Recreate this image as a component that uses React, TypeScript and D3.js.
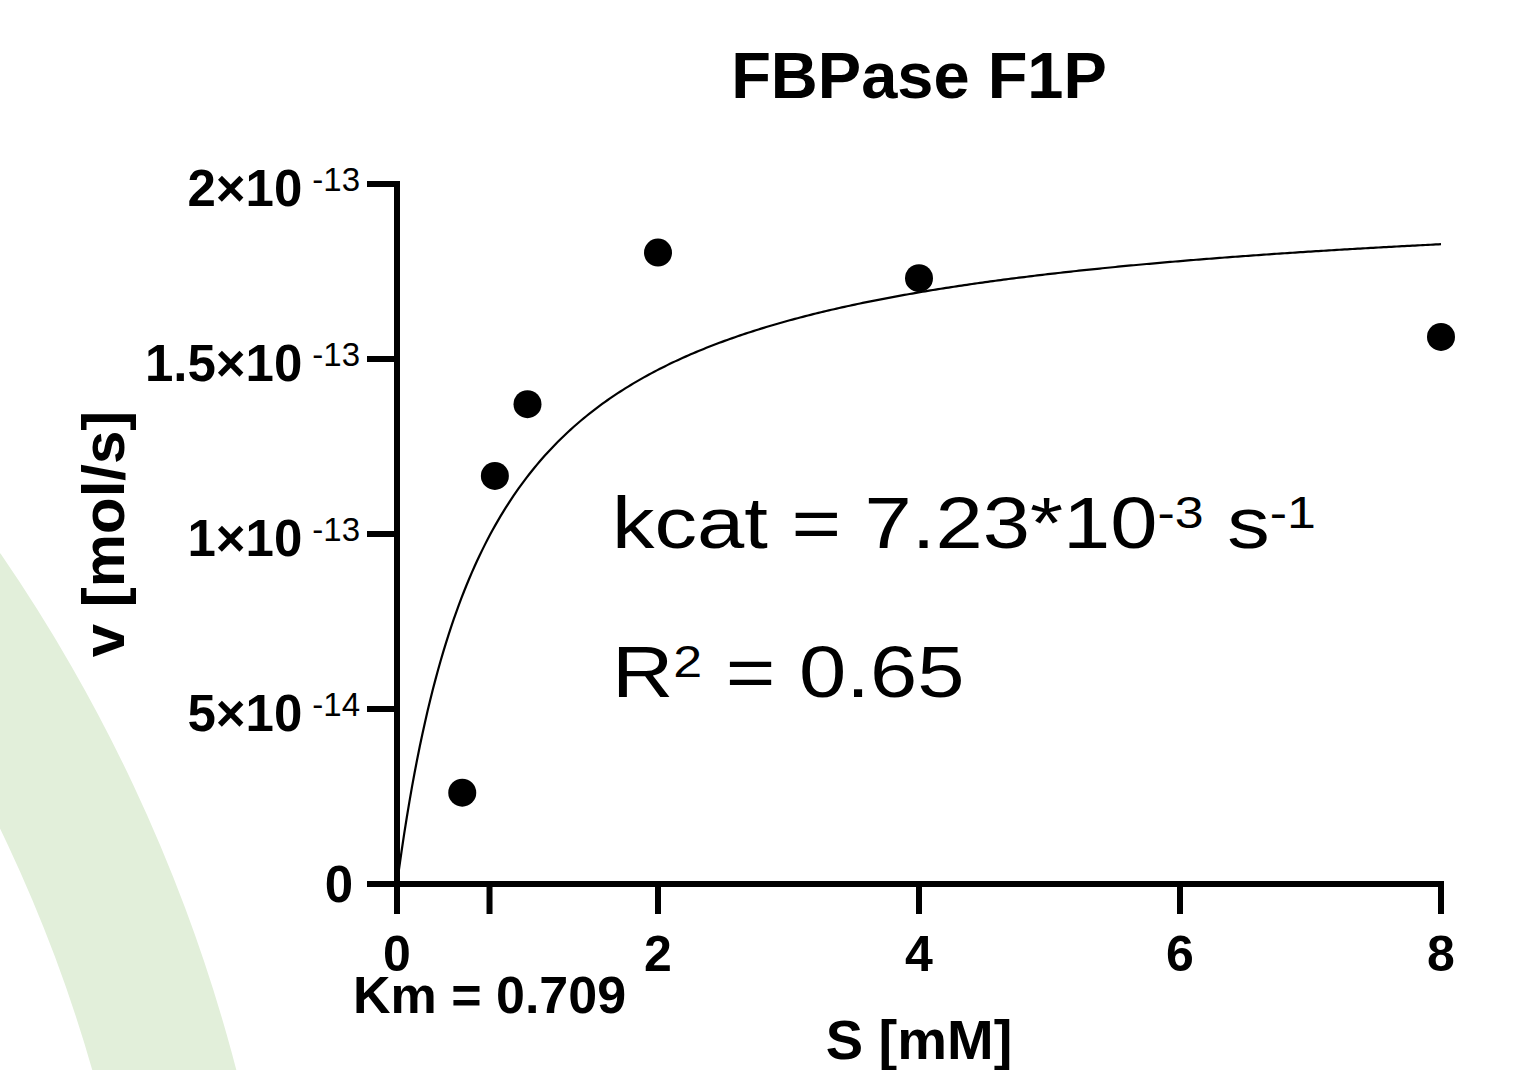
import React from "react";
import * as d3 from "d3";

const W = 1533;
const H = 1070;

// ---- data ----
const substrate = [0.5, 0.75, 1, 2, 4, 8];
const velocity = [2.61e-14, 1.166e-13, 1.371e-13, 1.804e-13, 1.731e-13, 1.563e-13];
const Km = 0.709;
const Vmax = 1.99e-13;
const xTicks = [0, 0.709, 2, 4, 6, 8];
const xTickLabels = ["0", "", "2", "4", "6", "8"];
const yTicks = [0, 5e-14, 1e-13, 1.5e-13, 2e-13];
const yTickMantissa = ["0", "5×10", "1×10", "1.5×10", "2×10"];
const yTickExponent = ["", "-14", "-13", "-13", "-13"];
const titleText = "FBPase F1P";
const xTitle = "S [mM]";
const yTitle = "v [mol/s]";
const kmLabel = "Km = 0.709";

const FONT = "'Liberation Sans', Arial, Helvetica, sans-serif";

export default function App() {
  const x = d3.scaleLinear().domain([0, 8]).range([397, 1441]);
  const y = d3.scaleLinear().domain([0, 2e-13]).range([884, 184]);

  // fitted Michaelis-Menten curve from Km / Vmax
  const sx = d3.range(0, 401).map((i) => 0.015 + (i / 400) * (8 - 0.015));
  const fit = sx.map((s) => [s, (Vmax * s) / (Km + s)] as [number, number]);
  const line = d3
    .line<[number, number]>()
    .x((d) => x(d[0]))
    .y((d) => y(d[1]));

  const ring = d3
    .arc()
    .innerRadius(1499)
    .outerRadius(1638)
    .startAngle(0.4)
    .endAngle(1.7);

  const axisW = 6;
  const tickLen = 30;

  return (
    <svg
      width={W}
      height={H}
      style={{ position: "absolute", left: 0, top: 0, display: "block", background: "#fff" }}
      fontFamily={FONT}
    >
      <rect x={0} y={0} width={W} height={H} fill="#ffffff" />
      <path
        d={ring({} as any) as string}
        transform="translate(-1349,1482)"
        fill="#e2efda"
      />

      {/* title */}
      <text x={919} y={98} textAnchor="middle" fontSize={65} fontWeight="bold" fill="#000">
        {titleText}
      </text>

      {/* fit curve */}
      <path d={line(fit) as string} fill="none" stroke="#000" strokeWidth={2.2} />

      {/* axes */}
      <line x1={x(0)} x2={x(0)} y1={y(2e-13)} y2={y(0)} stroke="#000" strokeWidth={axisW} />
      <line x1={x(0)} x2={x(8)} y1={y(0)} y2={y(0)} stroke="#000" strokeWidth={axisW} />
      {yTicks.map((t, i) => (
        <g key={"yt" + i}>
          <line
            x1={x(0) - tickLen}
            x2={x(0) + axisW / 2}
            y1={y(t)}
            y2={y(t)}
            stroke="#000"
            strokeWidth={axisW}
          />
          <text
            x={yTickExponent[i] ? 360 : 353}
            y={y(t) + (yTickExponent[i] ? 22 : 18)}
            textAnchor="end"
            fill="#000"
          >
            <tspan fontSize={51} fontWeight="bold">
              {yTickMantissa[i]}
            </tspan>
            {yTickExponent[i] ? (
              <tspan fontSize={33} dx={10} dy={-15}>
                {yTickExponent[i]}
              </tspan>
            ) : null}
          </text>
        </g>
      ))}
      {xTicks.map((t, i) => (
        <g key={"xt" + i}>
          <line
            x1={x(t)}
            x2={x(t)}
            y1={y(0) - axisW / 2}
            y2={y(0) + tickLen}
            stroke="#000"
            strokeWidth={axisW}
          />
          {xTickLabels[i] ? (
            <text x={x(t)} y={971} textAnchor="middle" fontSize={50} fontWeight="bold" fill="#000">
              {xTickLabels[i]}
            </text>
          ) : null}
        </g>
      ))}

      {/* Km label */}
      <text x={x(Km)} y={1013} textAnchor="middle" fontSize={52} fontWeight="bold" fill="#000">
        {kmLabel}
      </text>

      {/* axis titles */}
      <text x={919} y={1059} textAnchor="middle" fontSize={56} fontWeight="bold" fill="#000">
        {xTitle}
      </text>
      <text
        transform={`translate(124,${(y(0) + y(2e-13)) / 2}) rotate(-90)`}
        textAnchor="middle"
        fontSize={60}
        fontWeight="bold"
        fill="#000"
      >
        {yTitle}
      </text>

      {/* data points */}
      {substrate.map((s, i) => (
        <circle key={"p" + i} cx={x(s)} cy={y(velocity[i])} r={14} fill="#000" />
      ))}

      {/* annotations */}
      <text transform="translate(612,548) scale(1.18,1)" fontSize={72} fill="#000">
        <tspan>kcat = 7.23*10</tspan>
        <tspan fontSize={44} dy={-20}>-3</tspan>
        <tspan dy={20}> s</tspan>
        <tspan fontSize={44} dy={-20}>-1</tspan>
      </text>
      <text transform="translate(612,697) scale(1.18,1)" fontSize={72} fill="#000">
        <tspan>R</tspan>
        <tspan fontSize={44} dy={-20}>2</tspan>
        <tspan dy={20}> = 0.65</tspan>
      </text>
    </svg>
  );
}
